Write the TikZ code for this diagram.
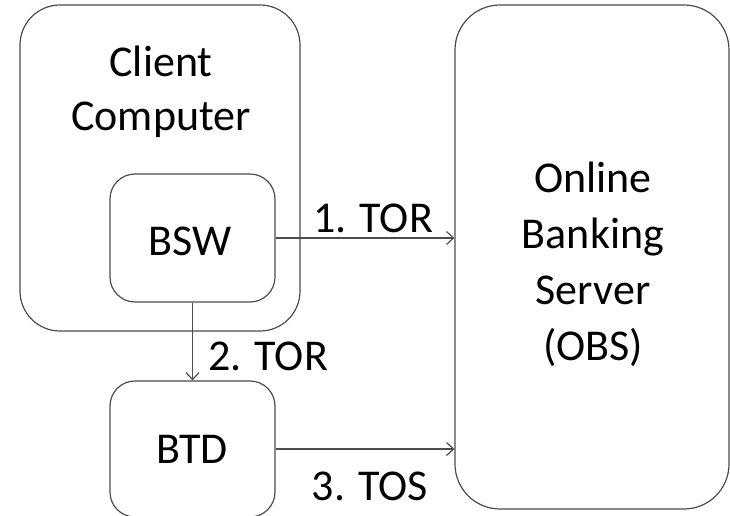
\documentclass[tikz,border=0pt]{standalone}
\usepackage{fontspec}
\setmainfont{Carlito}
\usetikzlibrary{arrows.meta}
\begin{document}
\begin{tikzpicture}[x=1pt,y=-1pt,
  box/.style={draw=black!70, line width=1.2pt, rectangle, inner sep=0pt},
  txt/.style={font=\fontsize{44}{54}\selectfont, inner sep=0pt, text=black},
  arr/.style={draw=black!70, line width=1.2pt, -{Straight Barb[length=7pt,width=13pt,line width=1.2pt]}}]
\useasboundingbox (0,0) rectangle (730,515);
\begin{scope}
\clip (0,0) rectangle (730,515);
\node[box, minimum width=280pt, minimum height=326pt, rounded corners=40pt] (cc) at (160,168) {};
\node[box, minimum width=274pt, minimum height=504pt, rounded corners=45pt] (obs) at (592,257) {};
\node[box, minimum width=165pt, minimum height=128pt, rounded corners=25pt] (bsw) at (192.5,238) {};
\node[box, minimum width=165pt, minimum height=136pt, rounded corners=25pt] (btd) at (192.5,449) {};
\end{scope}
\node[txt, align=center] (cctxt) at (161,92) {Client\\Computer};
\node[txt, align=center, font=\fontsize{44}{56}\selectfont] (obstxt) at (593,264) {Online\\Banking\\Server\\(OBS)};
\node[txt, anchor=base] (bswtxt) at (190,255) {BSW};
\node[txt, anchor=base] (btdtxt) at (192,463) {BTD};
\draw[arr] (bsw.east) -- (obs.west |- bsw.east);
\draw[arr] (bsw.south) -- (btd.north);
\draw[arr] (btd.east) -- (obs.west |- btd.east);
\node[txt, anchor=base] (l1) at (373,232) {1. TOR};
\node[txt, anchor=base] (l2) at (268,370) {2. TOR};
\node[txt, anchor=base] (l3) at (370,500) {3. TOS};
\end{tikzpicture}
\end{document}
